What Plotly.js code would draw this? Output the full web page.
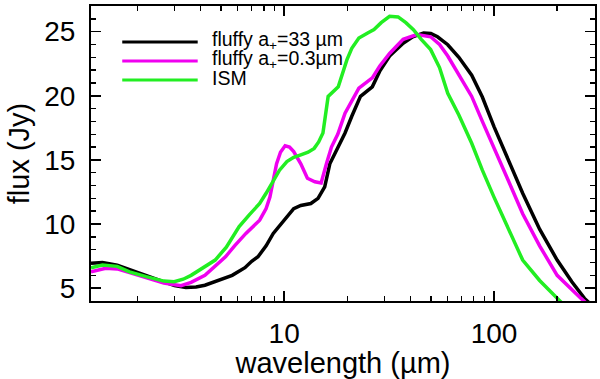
<!DOCTYPE html>
<html><head><meta charset="utf-8">
<script src="https://cdn.plot.ly/plotly-3.0.1.min.js"></script>
<style>html,body{margin:0;padding:0;background:#fff}#plot{width:600px;height:379px}</style>
</head><body><div id="plot"></div>
<script>
// Black: fluffy a+=33 µm
const wlBlack = [1.2,1.36,1.6,1.83,2.2,2.67,3.0,3.4,3.8,4.19,4.8,5.65,6.5,7.0,7.5,8.2,8.87,10.0,11.1,12.0,13.4,14.5,15.6,16.5,17.5,19.5,21.0,23.1,26.3,28.5,31.8,36.9,41.0,46.2,50.0,53.8,60.2,68,78.3,88,100,117,137,165,200,235,270,300];
const fluxBlack = [6.95,7.0,6.8,6.45,5.95,5.5,5.2,5.05,5.1,5.23,5.55,6.0,6.6,7.1,7.45,8.3,9.27,10.3,11.2,11.45,11.6,12.0,12.9,14.7,15.5,17.1,18.4,19.95,20.7,21.9,23.1,24.1,24.6,24.9,24.85,24.6,23.98,23.0,21.6,19.9,17.6,15.0,12.4,9.6,7.19,5.5,4.2,3.5];
// Magenta: fluffy a+=0.3 µm
const wlMag = [1.2,1.41,1.6,1.83,2.2,2.67,3.22,3.6,4.19,4.7,5.25,5.8,6.57,7.64,8.2,8.55,8.9,9.2,9.6,10.1,10.6,11.1,12.0,12.9,14.0,15.0,15.9,16.8,18.0,19.5,22.7,26.3,28.5,31.8,36.9,42.9,49.9,55,60.2,68,78.3,88,100,117,137,165,200,230,260,300];
const fluxMag = [6.27,6.55,6.5,6.2,5.8,5.4,5.2,5.45,6.0,6.7,7.45,8.3,9.27,10.3,11.2,12.1,13.5,14.7,15.6,16.1,16.0,15.65,14.7,13.57,13.3,13.2,14.7,16.0,17.0,18.65,20.6,21.4,22.3,23.3,24.4,24.77,24.6,24.0,23.1,21.7,19.95,18.0,16.0,13.4,10.8,8.3,6.0,5.0,4.2,3.3];
// Green: ISM
const wlISM = [1.2,1.36,1.6,1.83,2.2,2.67,2.99,3.3,3.6,4.1,4.69,5.3,6.1,6.8,7.64,8.2,8.87,9.5,10.3,11.1,12.0,13.0,13.9,14.6,15.3,16.2,18.1,19.0,19.9,21.0,22.7,25.0,26.8,29.0,31.8,34.9,38.0,41.3,45,49.9,55,60.2,68,78.3,88,100,117,137,165,200,215];
const fluxISM = [6.59,6.8,6.7,6.27,5.9,5.55,5.5,5.7,6.0,6.55,7.19,8.2,9.8,10.7,11.6,12.4,13.4,14.2,14.87,15.2,15.4,15.6,15.9,16.4,17.1,19.95,20.7,21.8,22.8,23.7,24.5,24.9,25.16,25.7,26.2,26.15,25.7,25.16,24.4,23.6,22.2,20.2,18.5,16.3,14.2,12.1,9.6,7.19,5.6,4.2,3.7];

const seriesNames = ['fluffy a<sub>+</sub>=33 µm','fluffy a<sub>+</sub>=0.3µm','ISM'];
const seriesColors = ['#000000','#f000f0','#22ee22'];
const yTicks = [5,10,15,20,25];
const xTicks = [10,100];
const xTickText = ['10','100'];
const xMinor = [2,3,4,5,6,7,8,9,20,30,40,50,60,70,80,90,200];

const FONT = 'Liberation Sans, Arial, Helvetica, sans-serif';
const traces = [
  {x: wlBlack, y: fluxBlack, mode:'lines', line:{color:seriesColors[0], width:3.5}, name:seriesNames[0]},
  {x: wlMag, y: fluxMag, mode:'lines', line:{color:seriesColors[1], width:3.5}, name:seriesNames[1]},
  {x: wlISM, y: fluxISM, mode:'lines', line:{color:seriesColors[2], width:3.5}, name:seriesNames[2]}
];

const legX0 = 0.062, legX1 = 0.2117, legTX = 0.237;
const legY = [0.878, 0.8136, 0.749];
const shapes = [], annotations = [];
for (let i=0;i<3;i++){
  shapes.push({type:'line', xref:'paper', yref:'paper', x0:legX0, x1:legX1, y0:legY[i], y1:legY[i], line:{color:seriesColors[i], width:3}});
  annotations.push({xref:'paper', yref:'paper', x:legTX, y:legY[i]+0.006, xanchor:'left', yanchor:'middle', showarrow:false, text:seriesNames[i], font:{family:FONT, size:19.5, color:'#000'}});
}

const layout = {
  width:600, height:379,
  margin:{l:91, r:5, t:6, b:78},
  paper_bgcolor:'#fff', plot_bgcolor:'#fff',
  showlegend:false,
  font:{family:FONT, color:'#000'},
  xaxis:{
    type:'log', range:[Math.log10(1.2), Math.log10(303)],
    tickvals:xTicks, ticktext:xTickText,
    ticks:'inside', ticklen:10, tickwidth:1.5, tickcolor:'#000',
    minor:{ticks:'inside', ticklen:5, tickwidth:1.5, tickcolor:'#000', tickvals:xMinor},
    showline:true, linecolor:'#000', linewidth:2, mirror:'allticks',
    showgrid:false, zeroline:false,
    tickfont:{size:28, family:FONT}, ticklabelstandoff:6,
    title:{text:'wavelength (µm)', font:{size:29, family:FONT}, standoff:2}
  },
  yaxis:{
    range:[4,27], tickvals:yTicks,
    ticks:'inside', ticklen:10, tickwidth:1.5, tickcolor:'#000',
    minor:{ticks:'inside', ticklen:5, tickwidth:1.5, tickcolor:'#000', dtick:1},
    showline:true, linecolor:'#000', linewidth:2, mirror:'allticks',
    showgrid:false, zeroline:false,
    tickfont:{size:28, family:FONT}, ticklabelstandoff:8,
    title:{text:'flux (Jy)', font:{size:29, family:FONT}, standoff:6}
  },
  shapes:shapes, annotations:annotations
};
Plotly.newPlot('plot', traces, layout, {displayModeBar:false, staticPlot:true});
</script></body></html>
